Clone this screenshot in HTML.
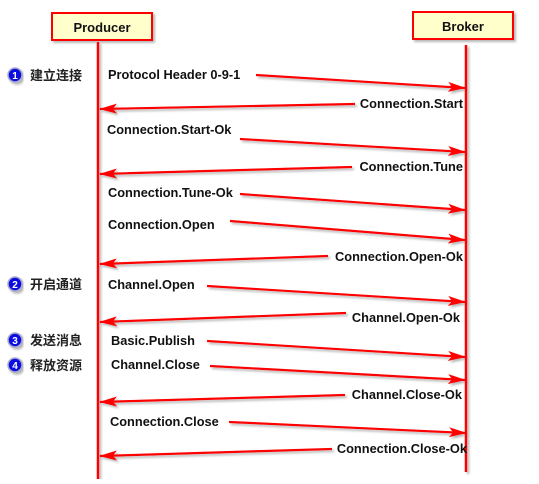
<!DOCTYPE html>
<html><head><meta charset="utf-8"><style>
body{margin:0;background:#fff;width:539px;height:479px;overflow:hidden}
text{font-family:"Liberation Sans","Noto Sans CJK SC",sans-serif;font-size:12.8px;fill:#111}
.cn{font-size:13px;font-weight:bold;fill:#222}
</style></head><body>
<svg width="539" height="479" xmlns="http://www.w3.org/2000/svg">
<defs>
<marker id="a" markerWidth="18" markerHeight="10" refX="17" refY="5" orient="auto" markerUnits="userSpaceOnUse">
<path d="M0,0 L18,5 L0,10 L4,5 Z" fill="#f00"/></marker>
<filter id="s"><feDropShadow dx="2" dy="2" stdDeviation="1" flood-color="#888" flood-opacity="0.6"/></filter>
</defs>
<g filter="url(#s)">
<rect x="52" y="13" width="100" height="27" fill="#ffffcc" stroke="#f00" stroke-width="2"/>
<rect x="413" y="12" width="100" height="27" fill="#ffffcc" stroke="#f00" stroke-width="2"/>
<line x1="98" y1="42" x2="98" y2="479" stroke="#f00" stroke-width="2.5"/>
<line x1="466" y1="45" x2="466" y2="472" stroke="#f00" stroke-width="2.5"/>
<g stroke="#f00" stroke-width="2.2" marker-end="url(#a)">
<line x1="256" y1="75" x2="465" y2="88"/>
<line x1="355" y1="104" x2="100" y2="109"/>
<line x1="240" y1="139" x2="465" y2="152"/>
<line x1="352" y1="167" x2="100" y2="174"/>
<line x1="240" y1="194" x2="465" y2="210"/>
<line x1="230" y1="221" x2="465" y2="240"/>
<line x1="328" y1="256" x2="100" y2="264"/>
<line x1="207" y1="286" x2="465" y2="302"/>
<line x1="346" y1="313" x2="100" y2="322"/>
<line x1="207" y1="341" x2="465" y2="357"/>
<line x1="210" y1="366" x2="465" y2="380"/>
<line x1="345" y1="395" x2="100" y2="402"/>
<line x1="229" y1="422" x2="466" y2="433"/>
<line x1="332" y1="449" x2="100" y2="456"/>
</g>
</g>
<text x="102" y="32" text-anchor="middle" font-weight="bold" style="font-size:13px">Producer</text>
<text x="463" y="31" text-anchor="middle" font-weight="bold" style="font-size:13px">Broker</text>
<g font-weight="bold">
<text x="108" y="79">Protocol Header 0-9-1</text>
<text x="463" y="108" text-anchor="end">Connection.Start</text>
<text x="107" y="134">Connection.Start-Ok</text>
<text x="463" y="171" text-anchor="end">Connection.Tune</text>
<text x="108" y="197">Connection.Tune-Ok</text>
<text x="108" y="229">Connection.Open</text>
<text x="463" y="261" text-anchor="end">Connection.Open-Ok</text>
<text x="108" y="289">Channel.Open</text>
<text x="460" y="322" text-anchor="end">Channel.Open-Ok</text>
<text x="111" y="345">Basic.Publish</text>
<text x="111" y="369">Channel.Close</text>
<text x="462" y="399" text-anchor="end">Channel.Close-Ok</text>
<text x="110" y="426">Connection.Close</text>
<text x="467" y="453" text-anchor="end">Connection.Close-Ok</text>
</g>
<g filter="url(#s)">
<circle cx="15" cy="75" r="7" fill="#1010e0" stroke="#aac" stroke-width="1.5"/>
<circle cx="15" cy="284" r="7" fill="#1010e0" stroke="#aac" stroke-width="1.5"/>
<circle cx="15" cy="340" r="7" fill="#1010e0" stroke="#aac" stroke-width="1.5"/>
<circle cx="15" cy="365" r="7" fill="#1010e0" stroke="#aac" stroke-width="1.5"/>
</g>
<g font-weight="bold">
<text x="15" y="79" text-anchor="middle" style="font-size:10px;fill:#fff">1</text>
<text x="15" y="288" text-anchor="middle" style="font-size:10px;fill:#fff">2</text>
<text x="15" y="344" text-anchor="middle" style="font-size:10px;fill:#fff">3</text>
<text x="15" y="369" text-anchor="middle" style="font-size:10px;fill:#fff">4</text>
</g>
<text class="cn" x="30" y="80">建立连接</text>
<text class="cn" x="30" y="289">开启通道</text>
<text class="cn" x="30" y="345">发送消息</text>
<text class="cn" x="30" y="370">释放资源</text>
</svg>
</body></html>
